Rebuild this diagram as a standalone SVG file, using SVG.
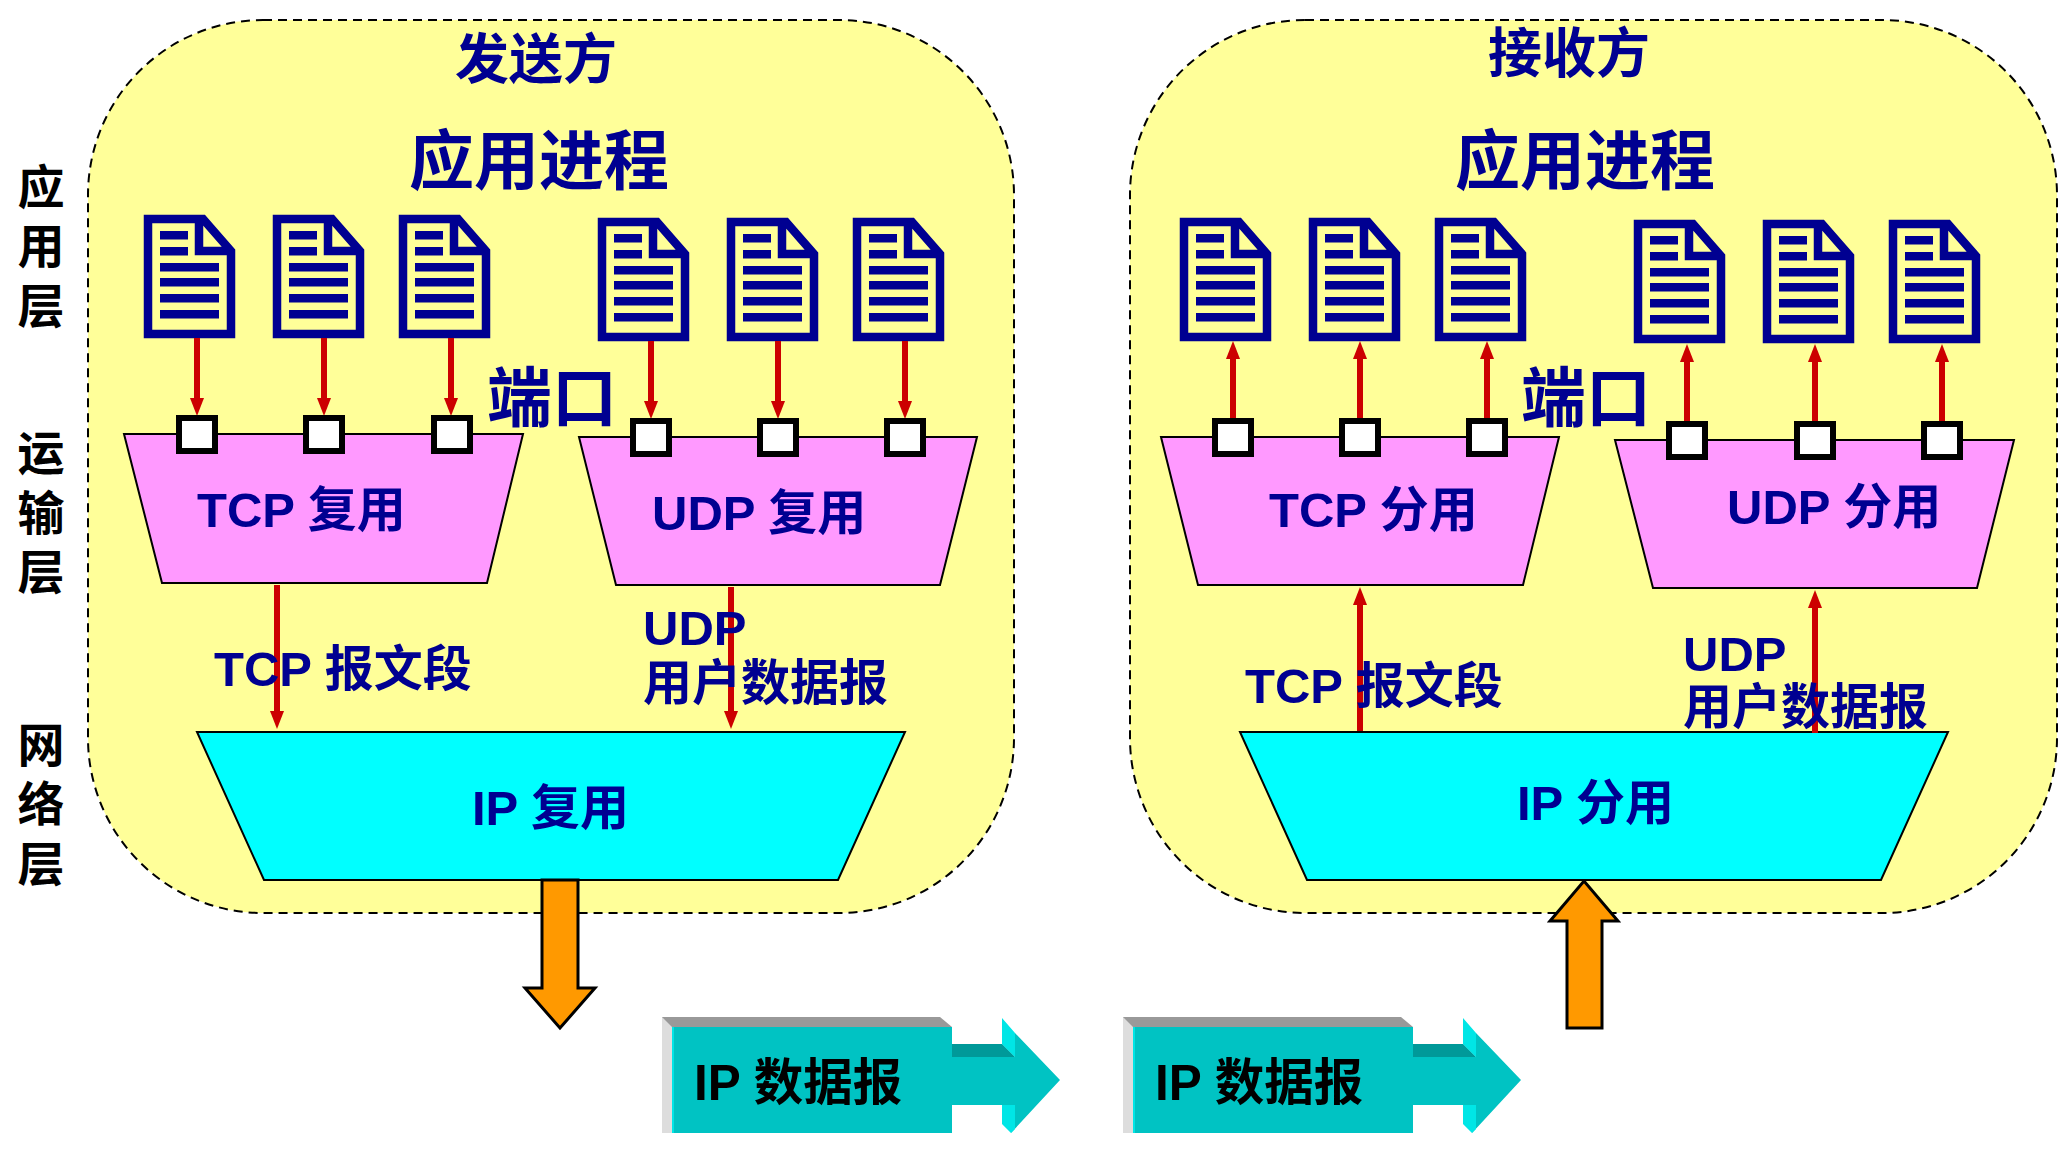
<svg xmlns="http://www.w3.org/2000/svg" width="2065" height="1167" viewBox="0 0 2065 1167">
<style>
text{font-family:"Liberation Sans","Noto Sans CJK SC",sans-serif;font-weight:bold;fill:#000091}
.t{font-size:49px}.b{font-size:65px}.s{font-size:54px}.side{font-size:47px;fill:#000}.k{font-size:49.500px;fill:#000}
.panel{fill:#ffff99;stroke:#000;stroke-width:2;stroke-dasharray:9 6}
.trap{stroke:#000;stroke-width:2}.pk{fill:#ff99ff}.cy{fill:#00ffff}
.port{fill:#fff;stroke:#000;stroke-width:6}
.wire{stroke:#cc0000;stroke-width:6;fill:none}
.ar{fill:#cc0000}
.big{fill:#ff9900;stroke:#000;stroke-width:3}
</style>
<defs>
<g id="doc">
<path d="M4 4H59L87 36V119H4Z M55 4V36H87" fill="none" stroke="#000091" stroke-width="8.5"/>
<path d="M16 16H44V24.500H16ZM16 32H44V40.500H16ZM16 48H75V56.500H16ZM16 63H75V71.500H16ZM16 79H75V87.500H16ZM16 95H75V103.500H16Z" fill="#000091"/>
</g>
<path id="dn" d="M-7 -18H7L0 0Z" class="ar"/>
<g id="pkt">
<path d="M0 0H10V116H0Z" fill="#dddddd"/>
<path d="M0 0H278L290 10H10Z" fill="#999999"/>
<rect x="10" y="10" width="280" height="106" fill="#00c3c3"/>
<rect x="10" y="10" width="2" height="106" fill="#00e6e6"/>
<path d="M290 27H340L353 40V88H290Z" fill="#00c3c3"/>
<path d="M290 27H340L353 40H290Z" fill="#009999"/>
<path d="M353 16L398 63L349 116L353 88Z" fill="#00c3c3"/>
<path d="M340 1L353 16V40L340 27ZM340 88H353V112L349 116L340 107Z" fill="#00e6e6"/>
</g>
</defs>

<g id="sender"><rect class="panel" x="88" y="20" width="926" height="893" rx="175"/>
<text class="s" x="536" y="79" text-anchor="middle">发送方</text>
<text class="b" x="539" y="184" text-anchor="middle">应用进程</text></g>
<g id="receiver"><rect class="panel" x="1130" y="20" width="927" height="893" rx="175"/>
<text class="s" x="1569" y="73" text-anchor="middle">接收方</text>
<text class="b" x="1585" y="184" text-anchor="middle">应用进程</text></g>

<g id="layers">
<text class="side" x="41" y="204" text-anchor="middle">应</text>
<text class="side" x="41" y="263" text-anchor="middle">用</text>
<text class="side" x="41" y="323" text-anchor="middle">层</text>
<text class="side" x="41" y="470" text-anchor="middle">运</text>
<text class="side" x="41" y="530" text-anchor="middle">输</text>
<text class="side" x="41" y="589" text-anchor="middle">层</text>
<text class="side" x="41" y="762" text-anchor="middle">网</text>
<text class="side" x="41" y="821" text-anchor="middle">络</text>
<text class="side" x="41" y="881" text-anchor="middle">层</text>
</g>

<g id="tcp-mux"><path class="trap pk" d="M124 434H523L487 583H162Z"/><text class="t" x="197" y="527">TCP 复用</text></g>
<g id="udp-mux"><path class="trap pk" d="M579 437H977L940 585H616Z"/><text class="t" x="652" y="530">UDP 复用</text></g>
<g id="tcp-demux"><path class="trap pk" d="M1161 437H1559L1523 585H1198Z"/><text class="t" x="1269" y="527">TCP 分用</text></g>
<g id="udp-demux"><path class="trap pk" d="M1615 440H2014L1977 588H1653Z"/><text class="t" x="1727" y="524">UDP 分用</text></g>
<g id="ip-mux"><path class="trap cy" d="M197 732H905L838 880H264Z"/><text class="t" x="472" y="825">IP 复用</text></g>
<g id="ip-demux"><path class="trap cy" d="M1240 732H1948L1881 880H1307Z"/><text class="t" x="1517" y="820">IP 分用</text></g>

<g id="docs">
<use href="#doc" x="144" y="215"/><use href="#doc" x="273" y="215"/><use href="#doc" x="399" y="215"/>
<use href="#doc" x="598" y="218"/><use href="#doc" x="727" y="218"/><use href="#doc" x="853" y="218"/>
<use href="#doc" x="1180" y="218"/><use href="#doc" x="1309" y="218"/><use href="#doc" x="1435" y="218"/>
<use href="#doc" x="1634" y="220"/><use href="#doc" x="1763" y="220"/><use href="#doc" x="1889" y="220"/>
</g>

<g id="connectors">
<path class="wire" d="M197 338V400M324 338V400M451 338V400M651 341V402M778 341V402M905 341V402M1233 358V419M1360 358V419M1487 358V419M1687 361V422M1815 361V422M1942 361V422M277 585V718M731 587V718M1360 731V600M1815 733V603"/>
<use href="#dn" x="197" y="416"/><use href="#dn" x="324" y="416"/><use href="#dn" x="451" y="416"/>
<use href="#dn" x="651" y="419"/><use href="#dn" x="778" y="419"/><use href="#dn" x="905" y="419"/>
<use href="#dn" x="277" y="729"/><use href="#dn" x="731" y="729"/>
<use href="#dn" transform="translate(1233,341) scale(1,-1)"/><use href="#dn" transform="translate(1360,341) scale(1,-1)"/><use href="#dn" transform="translate(1487,341) scale(1,-1)"/>
<use href="#dn" transform="translate(1687,344) scale(1,-1)"/><use href="#dn" transform="translate(1815,344) scale(1,-1)"/><use href="#dn" transform="translate(1942,344) scale(1,-1)"/>
<use href="#dn" transform="translate(1360,587) scale(1,-1)"/><use href="#dn" transform="translate(1815,590) scale(1,-1)"/>
<path class="big" d="M542 880H578V988H595L560 1028L525 988H542Z"/>
<path class="big" d="M1567 1028V921H1550L1584 881L1618 921H1602V1028Z"/>
</g>

<g id="ports">
<rect class="port" x="179" y="418" width="36" height="33"/><rect class="port" x="306" y="418" width="36" height="33"/><rect class="port" x="434" y="418" width="36" height="33"/>
<rect class="port" x="633" y="421" width="36" height="33"/><rect class="port" x="760" y="421" width="36" height="33"/><rect class="port" x="887" y="421" width="36" height="33"/>
<rect class="port" x="1215" y="421" width="36" height="33"/><rect class="port" x="1342" y="421" width="36" height="33"/><rect class="port" x="1469" y="421" width="36" height="33"/>
<rect class="port" x="1669" y="424" width="36" height="33"/><rect class="port" x="1797" y="424" width="36" height="33"/><rect class="port" x="1924" y="424" width="36" height="33"/>
</g>

<g id="labels">
<text class="b" x="487" y="421">端口</text>
<text class="b" x="1521" y="421">端口</text>
<text class="t" x="214" y="686">TCP 报文段</text>
<text class="t" x="643" y="645">UDP</text>
<text class="t" x="643" y="700">用户数据报</text>
<text class="t" x="1245" y="703">TCP 报文段</text>
<text class="t" x="1683" y="671">UDP</text>
<text class="t" x="1683" y="724">用户数据报</text>
</g>

<g id="packet1"><use href="#pkt" x="662" y="1017"/><text class="k" x="694" y="1100">IP 数据报</text></g>
<g id="packet2"><use href="#pkt" x="1123" y="1017"/><text class="k" x="1155" y="1100">IP 数据报</text></g>
</svg>
